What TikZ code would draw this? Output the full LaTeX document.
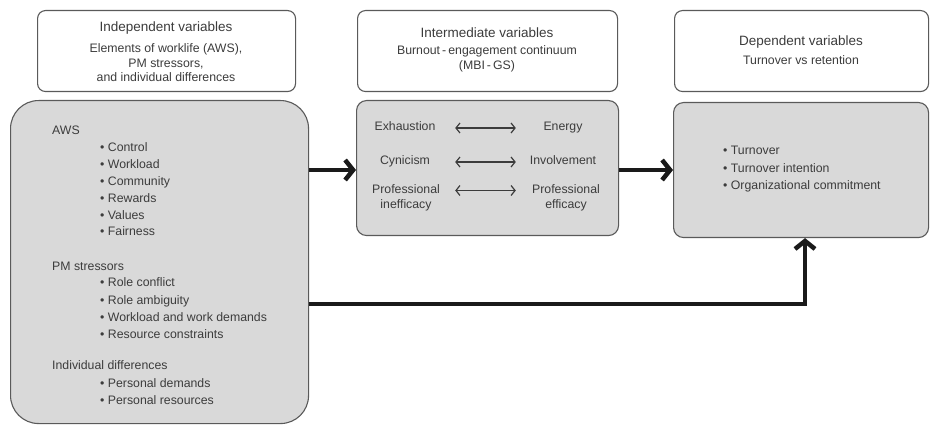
\documentclass[tikz,border=0pt]{standalone}
\usepackage{fontspec}
\setmainfont{Liberation Sans}
\usetikzlibrary{arrows.meta, positioning, calc}
\definecolor{panelgray}{HTML}{D9D9D9}
\definecolor{edgegray}{HTML}{5A5A5A}
\definecolor{inkgray}{HTML}{3C3C3C}
\definecolor{flowblack}{HTML}{1A1A1A}

\begin{document}
\begin{tikzpicture}[
    x=1pt, y=-1pt,
    head box/.style={draw=edgegray, line width=1.1pt, rounded corners=8pt,
        fill=white, anchor=north west, inner sep=0pt, minimum height=81pt,
        minimum width=#1},
    var panel/.style={draw=edgegray, line width=1.1pt, fill=panelgray,
        anchor=north west, inner sep=0pt},
    panel title/.style={font=\fontsize{13.5}{16}\selectfont, text=inkgray,
        inner sep=0pt},
    panel sub/.style={font=\fontsize{12.3}{14.5}\selectfont, text=inkgray,
        align=center, inner sep=0pt},
    group label/.style={font=\fontsize{12.3}{17}\selectfont, text=inkgray,
        anchor=west, inner sep=0pt, text height=9pt, text depth=3pt},
    pole label/.style={font=\fontsize{12.3}{15}\selectfont, text=inkgray,
        align=center, inner sep=0pt, minimum width=90pt},
    pole word/.style={pole label, text height=9pt, text depth=3pt},
    flow/.style={draw=flowblack, line width=4.5pt,
        -{Straight Barb[length=8pt, width=20pt]}},
    pair/.style={draw=inkgray, line width=1.2pt,
        {Straight Barb[length=4pt, width=10pt]}-{Straight Barb[length=4pt, width=10pt]}},
]

% ══════════════════════════════════════════════════════════════════════
%  DIMENSIONS — three columns, header row over panel row (1pt = 1px)
% ══════════════════════════════════════════════════════════════════════
\def\headT{10}
\def\IL{37}   \def\Icx{166}
\def\ML{357}  \def\Mcx{487}
\def\DL{674}  \def\Dcx{801}
\def\bulletX{100}  \def\groupX{52}

\useasboundingbox (0,0) rectangle (930,433);

% ── Header boxes ──────────────────────────────────────────────────────
\node[head box=258pt] (indephead) at (\IL,\headT) {};
\node[head box=260pt] (interhead) at (\ML,\headT) {};
\node[head box=254pt] (dephead)   at (\DL,\headT) {};

\node[panel title] (indeptitle) at (\Icx,28) {Independent variables};
\node[panel sub]   (indepsub)   at (\Icx,63)
    {Elements of worklife (AWS),\\PM stressors,\\and individual differences};
\node[panel title] (intertitle) at (\Mcx,33) {Intermediate variables};
\node[panel sub]   (intersub)   at (\Mcx,59)
    {Burnout\,-\,engagement continuum\\(MBI\,-\,GS)};
\node[panel title] (deptitle)   at (\Dcx,42) {Dependent variables};
\node[panel sub]   (depsub)     at (\Dcx,60) {Turnover vs retention};

% ── Variable panels ───────────────────────────────────────────────────
\node[var panel, rounded corners=28pt, minimum width=298pt,
    minimum height=323pt] (indep) at (10,100) {};
\node[var panel, rounded corners=10pt, minimum width=262pt,
    minimum height=135pt] (inter) at (356,100) {};
\node[var panel, rounded corners=10pt, minimum width=255pt,
    minimum height=135pt] (dep) at (673,102) {};

% ── Independent variables ─────────────────────────────────────────────
\node[group label] (aws) at (\groupX,132) {AWS};
\foreach \txt [count=\i] in {Control, Workload, Community, Rewards, Values,
    Fairness}
  \node[group label] (aws\i) at (\bulletX,{149+16.8*(\i-1)}) {\textbullet\ \txt};

\node[group label] (pms) at (\groupX,267) {PM stressors};
\foreach \txt [count=\i] in {Role conflict, Role ambiguity,
    Workload and work demands, Resource constraints}
  \node[group label] (pms\i) at (\bulletX,{284+17*(\i-1)}) {\textbullet\ \txt};

\node[group label] (indiv) at (\groupX,366) {Individual differences};
\foreach \txt [count=\i] in {Personal demands, Personal resources}
  \node[group label] (indiv\i) at (\bulletX,{384+17*(\i-1)}) {\textbullet\ \txt};

% ── Burnout / engagement poles ────────────────────────────────────────
\node[pole word]  (exh) at (405,128) {Exhaustion};
\node[pole word]  (ene) at (563,128) {Energy};
\node[pole word]  (cyn) at (405,162) {Cynicism};
\node[pole word]  (inv) at (563,162) {Involvement};
\node[pole label] (pin) at (406,198) {Professional\\inefficacy};
\node[pole label] (pef) at (566,198) {Professional\\efficacy};

\draw[pair, shorten <=5pt, shorten >=2pt] (exh.east) -- (ene.west);
\draw[pair, shorten <=5pt, shorten >=2pt] (cyn.east) -- (inv.west);
\draw[pair, shorten <=4pt, shorten >=5pt]
    ([yshift=7.5pt]pin.east) -- ([yshift=7.5pt]pef.west);

% ── Dependent variables ───────────────────────────────────────────────
\foreach \txt [count=\i] in {Turnover, Turnover intention,
    Organizational commitment}
  \node[group label] (dv\i) at (723,{152+17.5*(\i-1)}) {\textbullet\ \txt};

% ── Flow arrows  (independent -> intermediate -> dependent) ───────────
\coordinate (turn) at (805,304);
\draw[flow] (indep.east |- 0,170) -- (inter.west |- 0,170);
\draw[flow] (inter.east |- 0,170) -- (dep.west |- 0,170);
\draw[flow] (indep.east |- turn) -- (turn) -- (turn |- dep.south);

\end{tikzpicture}
\end{document}
